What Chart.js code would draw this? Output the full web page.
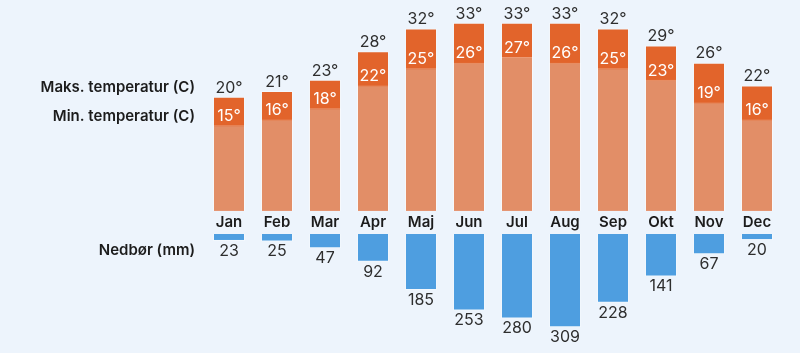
<!DOCTYPE html>
<html>
<head>
<meta charset="utf-8">
<script src="https://cdn.jsdelivr.net/npm/chart.js@4.4.1/dist/chart.umd.min.js"></script>
<style>
  html, body { margin: 0; padding: 0; background: #edf4fc; }
  #wrap { width: 800px; height: 353px; position: relative; }
</style>
</head>
<body>
<div id="wrap"><canvas id="myChart"></canvas></div>
<script>
// chart data
const months = ['Jan', 'Feb', 'Mar', 'Apr', 'Maj', 'Jun', 'Jul', 'Aug', 'Sep', 'Okt', 'Nov', 'Dec'];
const maxTemp = [20, 21, 23, 28, 32, 33, 33, 33, 32, 29, 26, 22];
const minTemp = [15, 16, 18, 22, 25, 26, 27, 26, 25, 23, 19, 16];
const rain = [23, 25, 47, 92, 185, 253, 280, 309, 228, 141, 67, 20];
const rowLabels = ['Maks. temperatur (C)', 'Min. temperatur (C)', 'Nedbør (mm)'];

const FONT = 'Inter, "Noto Sans", sans-serif';

// draws values, month names and the row titles on the left
const labelPlugin = {
  id: 'labels',
  afterDatasetsDraw(chart) {
    const ctx = chart.ctx;
    const minMeta = chart.getDatasetMeta(0);
    const maxMeta = chart.getDatasetMeta(1);
    const rainMeta = chart.getDatasetMeta(2);
    const yT = chart.scales.yT;
    const yP = chart.scales.yP;
    const midY = (yT.getPixelForValue(0) + yP.getPixelForValue(0)) / 2;
    ctx.save();
    ctx.textAlign = 'center';
    ctx.textBaseline = 'middle';

    maxMeta.data.forEach((bar, i) => {
      ctx.font = '16px ' + FONT;
      ctx.fillStyle = '#2e2e2e';
      ctx.fillText(maxTemp[i] + '°', bar.x, bar.y - 9);
    });
    minMeta.data.forEach((bar, i) => {
      ctx.font = '16px ' + FONT;
      ctx.fillStyle = '#ffffff';
      ctx.fillText(minTemp[i] + '°', bar.x, bar.y - 9);
    });
    rainMeta.data.forEach((bar, i) => {
      ctx.font = '16px ' + FONT;
      ctx.fillStyle = '#2e2e2e';
      ctx.fillText(rain[i], bar.x, bar.y + 10);
      ctx.font = '600 15px ' + FONT;
      ctx.fillStyle = '#1c1c1c';
      ctx.fillText(months[i], bar.x, midY);
    });

    // row titles, lined up with the January labels
    ctx.textAlign = 'right';
    ctx.font = '600 15px ' + FONT;
    ctx.fillStyle = '#1c1c1c';
    const tx = chart.chartArea.left - 10;
    ctx.fillText(rowLabels[0], tx, maxMeta.data[0].y - 9);
    ctx.fillText(rowLabels[1], tx, minMeta.data[0].y - 9);
    ctx.fillText(rowLabels[2], tx, rainMeta.data[0].y + 10);
    ctx.restore();
  }
};

const data = {
  labels: months,
  datasets: [
    {
      label: 'Min',
      data: minTemp,
      yAxisID: 'yT',
      backgroundColor: '#e28e67',
      borderColor: 'rgba(255,255,255,0.35)',
      borderWidth: 1,
      order: 0
    },
    {
      label: 'Maks',
      data: maxTemp,
      yAxisID: 'yT',
      backgroundColor: '#e2642b',
      borderColor: 'rgba(255,255,255,0.35)',
      borderWidth: 1,
      order: 1
    },
    {
      label: 'Nedbør',
      data: rain,
      yAxisID: 'yP',
      backgroundColor: '#4e9ee0',
      borderColor: 'rgba(255,255,255,0.35)',
      borderWidth: 1,
      order: 2
    }
  ]
};

const config = {
  type: 'bar',
  data: data,
  options: {
    responsive: true,
    maintainAspectRatio: false,
    animation: false,
    layout: { padding: { left: 205, right: 19, top: 0, bottom: 0 } },
    datasets: {
      bar: { grouped: false, barPercentage: 0.667, categoryPercentage: 1 }
    },
    plugins: {
      legend: { display: false },
      tooltip: { enabled: false }
    },
    scales: {
      x: { display: false },
      yT: { display: false, min: -25, max: 37, grid: { display: false } },
      yP: { display: false, reverse: true, min: -775, max: 394, grid: { display: false } }
    }
  },
  plugins: [labelPlugin]
};

const myChart = new Chart(document.getElementById('myChart'), config);
</script>
</body>
</html>
